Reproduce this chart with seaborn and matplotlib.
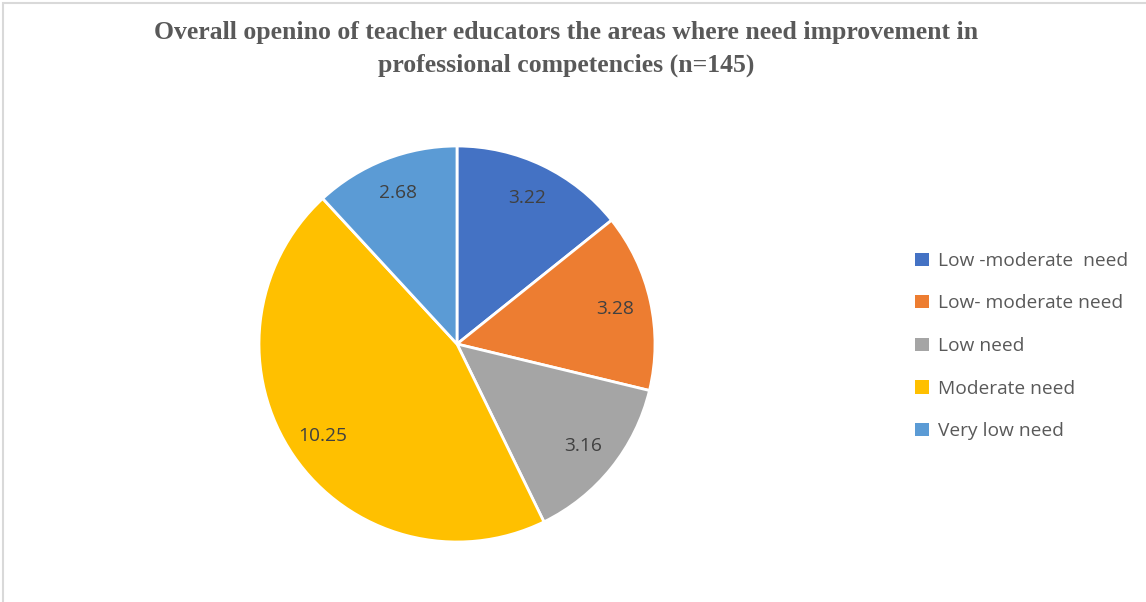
import matplotlib
matplotlib.use("Agg")
import matplotlib.pyplot as plt
from matplotlib.patches import Patch, Rectangle
import seaborn as sns

sns.set_theme(style="white")

categories = ["Low -moderate  need", "Low- moderate need", "Low need",
              "Moderate need", "Very low need"]
values = [3.22, 3.28, 3.16, 10.25, 2.68]
colors = ["#4472C4", "#ED7D31", "#A5A5A5", "#FFC000", "#5B9BD5"]
title = ("Overall openino of teacher educators the areas where need improvement in\n"
         "professional competencies (n=145)")

fig = plt.figure(figsize=(11.46, 6.02), dpi=100)

# light chart border (cropped at right/bottom in the source)
fig.add_artist(Rectangle((3 / 1146, -0.1), 1.2, 0.1 + (602 - 3) / 602,
                         transform=fig.transFigure, fill=False,
                         edgecolor="#D9D9D9", linewidth=1.5))

ax = fig.add_axes([259 / 1146, 60 / 602, 396 / 1146, 396 / 602])
wedges, _, autotexts = ax.pie(
    values, colors=colors, startangle=90, counterclock=False,
    autopct=lambda p: f"{p * sum(values) / 100:.2f}", pctdistance=0.82,
    wedgeprops=dict(edgecolor="white", linewidth=2),
    textprops=dict(color="#404040", fontsize=13.8, family="Open Sans"),
)
ax.set_xlim(-1, 1)
ax.set_ylim(-1, 1)
ax.set_aspect("equal")
ax.axis("off")

fig.text(0.494, 1 - 21 / 602, title, ha="center", va="top", family="Liberation Serif",
         fontweight="bold", fontsize=18.5, color="#595959", linespacing=1.55)

handles = [Patch(facecolor=c, edgecolor="none") for c in colors]
leg = fig.legend(handles, categories, loc="center left",
                 bbox_to_anchor=(898 / 1146, 1 - 346 / 602), frameon=False,
                 prop=dict(family="Open Sans", size=13.8), labelcolor="#595959",
                 handlelength=0.7, handleheight=0.7, handletextpad=0.5,
                 labelspacing=1.28)

fig.savefig("out.png", dpi=100)
